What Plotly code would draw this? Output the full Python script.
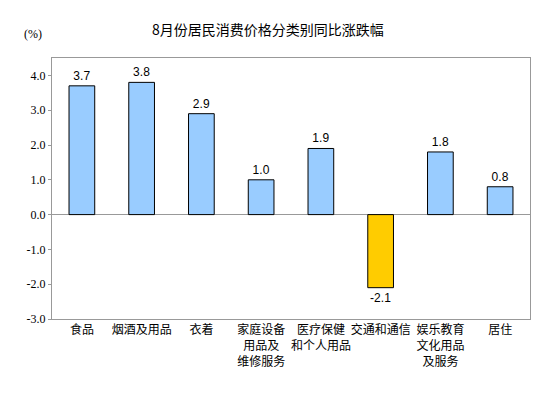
import plotly.graph_objects as go

categories = ["食品", "烟酒及用品", "衣着", "家庭设备<br>用品及<br>维修服务", "医疗保健<br>和个人用品",
              "交通和通信", "娱乐教育<br>文化用品<br>及服务", "居住"]
values = [3.7, 3.8, 2.9, 1.0, 1.9, -2.1, 1.8, 0.8]
labels = ["3.7", "3.8", "2.9", "1.0", "1.9", "-2.1", "1.8", "0.8"]
tick_vals = [4.0, 3.0, 2.0, 1.0, 0.0, -1.0, -2.0, -3.0]
tick_text = ["4.0", "3.0", "2.0", "1.0", "0.0", "-1.0", "-2.0", "-3.0"]

colors = ["#FFCC00" if v < 0 else "#99CCFF" for v in values]

fig = go.Figure()
fig.add_trace(go.Bar(
    x=list(range(len(categories))), y=values,
    marker=dict(color=colors, line=dict(color="black", width=1)),
    width=0.43,
    text=labels, textposition="outside", cliponaxis=False,
    textfont=dict(family="Liberation Sans, Arial", size=12, color="black"),
))

fig.update_layout(
    width=537, height=382,
    margin=dict(l=44, r=15, t=50, b=71, autoexpand=False),
    paper_bgcolor="white", plot_bgcolor="white",
    showlegend=False,
    title=dict(text="8月份居民消费价格分类别同比涨跌幅", x=0.484, xanchor="center",
               y=1 - 22 / 382, yanchor="middle",
               font=dict(family="Noto Sans CJK SC", size=14, color="black")),
    xaxis=dict(range=[-0.5, 7.5], tickmode="array", tickvals=list(range(len(categories))),
               ticktext=categories, showline=True, mirror=True, linecolor="#999999", linewidth=1,
               showgrid=False, zeroline=False, ticks="", tickangle=0, automargin=False,
               tickfont=dict(family="Noto Sans CJK SC", size=12, color="black")),
    yaxis=dict(range=[-3.0, 4.5], tickmode="array", tickvals=tick_vals, ticktext=tick_text,
               showline=True, mirror=True, linecolor="#999999", linewidth=1,
               showgrid=False, zeroline=True, zerolinecolor="#999999", zerolinewidth=1,
               ticks="outside", ticklen=3, tickcolor="#999999", automargin=False,
               tickfont=dict(family="Liberation Serif, Times New Roman", size=12, color="black")),
    annotations=[dict(text="(%)", xref="paper", yref="paper", x=-0.04, y=1.092,
                      xanchor="center", yanchor="middle", showarrow=False,
                      font=dict(family="Liberation Serif", size=12, color="black"))],
)

fig.write_html("out.html")
